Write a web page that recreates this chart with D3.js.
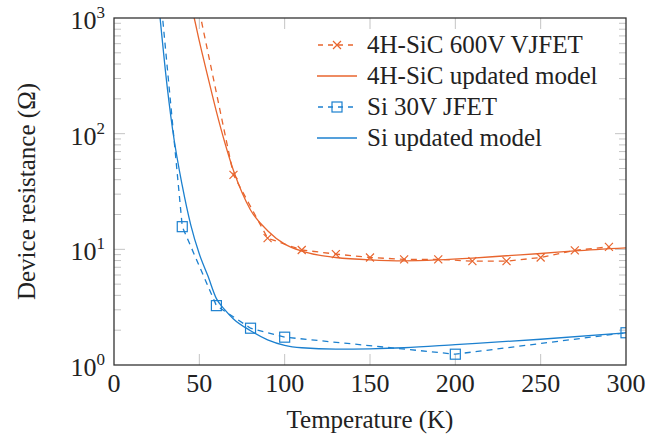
<!DOCTYPE html>
<html>
<head>
<meta charset="utf-8">
<script src="https://cdn.jsdelivr.net/npm/d3@7"></script>
<style>
  body { margin: 0; background: #fff; }
  text { font-family: "Liberation Serif", "Times New Roman", serif; fill: #222; }
</style>
</head>
<body>
<div id="chart"></div>
<script>
// Device resistance vs temperature, 4H-SiC and Si JFETs, measured vs updated model.

// ── Data ────────────────────────────────────────────────────────────────────
const SIC_MEAS_T  = [50, 70, 90, 110, 130, 150, 170, 190, 210, 230, 250, 270, 290];
const SIC_MEAS_R  = [1150, 44, 12.5, 9.87, 9.1, 8.5, 8.2, 8.2, 7.9, 7.9, 8.5, 9.8, 10.5];

const SIC_MODEL_T = [46, 47, 50, 55, 60, 65, 70, 75, 80, 90, 100, 110, 120, 130, 150, 170, 190, 210, 230, 250, 270, 300];
const SIC_MODEL_R = [1150, 1000, 630, 310, 155, 83, 48, 31, 21.9, 14.5, 11.1, 9.66, 8.9, 8.5, 8.1, 7.95, 8.1, 8.4, 8.8, 9.2, 9.7, 10.3];

const SI_MEAS_T   = [25, 40, 60, 80, 100, 200, 300];
const SI_MEAS_R   = [3500, 15.7, 3.26, 2.08, 1.74, 1.24, 1.9];

const SI_MODEL_T  = [26, 27, 30, 34.4, 40, 45, 50, 55, 60, 65, 70, 80, 90, 100, 110, 130, 150, 170, 200, 250, 300];
const SI_MODEL_R  = [1400, 1000, 363, 107, 35.5, 16.2, 9.1, 5.9, 3.75, 3.0, 2.5, 1.98, 1.65, 1.48, 1.41, 1.37, 1.38, 1.41, 1.5, 1.67, 1.9];

const X_TICKS = [0, 50, 100, 150, 200, 250, 300];
const Y_TICKS = [1, 10, 100, 1000];

const ORANGE = "#e8652e";
const BLUE   = "#1c80cf";

const SERIES = [
  { label: "4H-SiC 600V VJFET",    T: SIC_MEAS_T,  R: SIC_MEAS_R,  color: ORANGE, dash: "6,5", mark: "cross",  smooth: false },
  { label: "4H-SiC updated model", T: SIC_MODEL_T, R: SIC_MODEL_R, color: ORANGE, dash: null,  mark: null,     smooth: true  },
  { label: "Si 30V JFET",          T: SI_MEAS_T,   R: SI_MEAS_R,   color: BLUE,   dash: "6,5", mark: "square", smooth: false },
  { label: "Si updated model",     T: SI_MODEL_T,  R: SI_MODEL_R,  color: BLUE,   dash: null,  mark: null,     smooth: true  },
];

// ── Layout ──────────────────────────────────────────────────────────────────
const W = 646, H = 437;
const plot = { left: 114, right: 626, top: 18, bottom: 365 };

const x = d3.scaleLinear().domain([0, 300]).range([plot.left, plot.right]);
const y = d3.scaleLog().domain([1, 1000]).range([plot.bottom, plot.top]);

const svg = d3.select("#chart").append("svg")
  .attr("width", W)
  .attr("height", H);

svg.append("clipPath").attr("id", "clip")
  .append("rect")
    .attr("x", plot.left).attr("y", plot.top)
    .attr("width", plot.right - plot.left)
    .attr("height", plot.bottom - plot.top);

// ── Ticks (inside, grey) ────────────────────────────────────────────────────
const TICK_COLOR = "#c4c4c4";
const ticks = svg.append("g").attr("stroke", TICK_COLOR).attr("stroke-width", 1);

X_TICKS.slice(1, -1).forEach(t => {
  ticks.append("line").attr("x1", x(t)).attr("x2", x(t)).attr("y1", plot.bottom).attr("y2", plot.bottom - 11);
  ticks.append("line").attr("x1", x(t)).attr("x2", x(t)).attr("y1", plot.top).attr("y2", plot.top + 11);
});

Y_TICKS.forEach((t, i) => {
  if (i > 0 && i < Y_TICKS.length - 1) {
    ticks.append("line").attr("x1", plot.left).attr("x2", plot.left + 11).attr("y1", y(t)).attr("y2", y(t));
    ticks.append("line").attr("x1", plot.right).attr("x2", plot.right - 11).attr("y1", y(t)).attr("y2", y(t));
  }
  if (i < Y_TICKS.length - 1) {
    d3.range(2, 10).forEach(m => {
      const v = t * m;
      ticks.append("line").attr("x1", plot.left).attr("x2", plot.left + 7).attr("y1", y(v)).attr("y2", y(v));
      ticks.append("line").attr("x1", plot.right).attr("x2", plot.right - 7).attr("y1", y(v)).attr("y2", y(v));
    });
  }
});

// ── Lines ───────────────────────────────────────────────────────────────────
const lines = svg.append("g").attr("clip-path", "url(#clip)");

SERIES.forEach(s => {
  const pts = s.T.map((t, i) => [x(t), y(s.R[i])]);
  const gen = d3.line().curve(s.smooth ? d3.curveMonotoneX : d3.curveLinear);
  lines.append("path")
    .attr("d", gen(pts))
    .attr("fill", "none")
    .attr("stroke", s.color)
    .attr("stroke-width", 1.3)
    .attr("stroke-dasharray", s.dash);
});

function drawMark(g, kind, cx, cy, color) {
  if (kind === "cross") {
    const r = 4;
    g.append("path")
      .attr("d", `M${cx - r},${cy - r}L${cx + r},${cy + r}M${cx - r},${cy + r}L${cx + r},${cy - r}`)
      .attr("stroke", color).attr("stroke-width", 1.2).attr("fill", "none");
  } else if (kind === "square") {
    const r = 5;
    g.append("rect")
      .attr("x", cx - r).attr("y", cy - r).attr("width", 2 * r).attr("height", 2 * r)
      .attr("stroke", color).attr("stroke-width", 1.2).attr("fill", "none");
  }
}

SERIES.filter(s => s.mark).forEach(s => {
  s.T.forEach((t, i) => drawMark(lines, s.mark, x(t), y(s.R[i]), s.color));
});

// ── Frame ───────────────────────────────────────────────────────────────────
svg.append("rect")
  .attr("x", plot.left).attr("y", plot.top)
  .attr("width", plot.right - plot.left)
  .attr("height", plot.bottom - plot.top)
  .attr("fill", "none")
  .attr("stroke", "#333")
  .attr("stroke-width", 1.3);

// ── Tick labels ─────────────────────────────────────────────────────────────
svg.append("g").selectAll("text")
  .data(X_TICKS)
  .join("text")
    .attr("x", d => x(d))
    .attr("y", plot.bottom + 27)
    .attr("text-anchor", "middle")
    .style("font-size", "26px")
    .text(d => d);

const yl = svg.append("g").selectAll("text")
  .data(Y_TICKS)
  .join("text")
    .attr("x", 105)
    .attr("y", d => y(d) + 11)
    .attr("text-anchor", "end")
    .style("font-size", "26px");
yl.append("tspan").text("10");
yl.append("tspan")
  .attr("dy", -11)
  .style("font-size", "17px")
  .text(d => Math.round(Math.log10(d)));

// ── Axis titles ─────────────────────────────────────────────────────────────
svg.append("text")
  .attr("x", (plot.left + plot.right) / 2)
  .attr("y", 428)
  .attr("text-anchor", "middle")
  .style("font-size", "25px")
  .text("Temperature (K)");

svg.append("text")
  .attr("transform", `translate(35,${(plot.top + plot.bottom) / 2}) rotate(-90)`)
  .attr("text-anchor", "middle")
  .style("font-size", "25px")
  .text("Device resistance (Ω)");

// ── Legend ──────────────────────────────────────────────────────────────────
const legend = svg.append("g");
legend.append("rect")
  .attr("x", 308).attr("y", 30)
  .attr("width", 306).attr("height", 122)
  .attr("fill", "#fff");

SERIES.forEach((s, i) => {
  const ly = 45 + i * 31;
  legend.append("line")
    .attr("x1", 317).attr("x2", 357)
    .attr("y1", ly).attr("y2", ly)
    .attr("stroke", s.color)
    .attr("stroke-width", 1.3)
    .attr("stroke-dasharray", s.dash ? "5,5" : null)
    .attr("stroke-dashoffset", s.dash ? -1 : null);
  if (s.mark) drawMark(legend, s.mark, 337, ly, s.color);
  legend.append("text")
    .attr("x", 367)
    .attr("y", ly + 8)
    .style("font-size", "25px")
    .text(s.label);
});
</script>
</body>
</html>
